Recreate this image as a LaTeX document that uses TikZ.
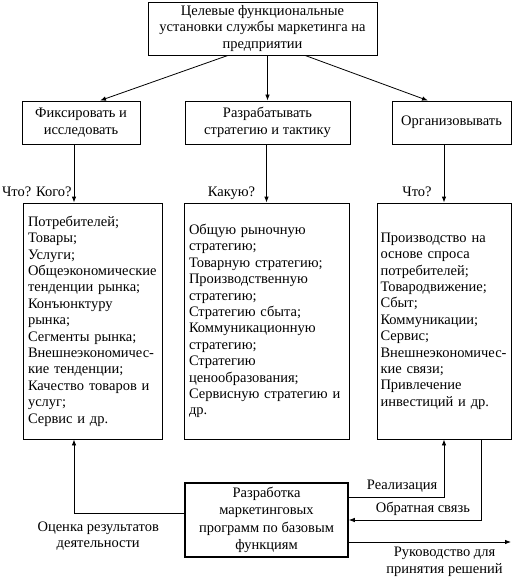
\documentclass[tikz,border=0pt]{standalone}
\usepackage{fontspec}
\setmainfont{Liberation Serif}
\usetikzlibrary{arrows.meta}

\begin{document}
\begin{tikzpicture}[x=1pt, y=-1pt, line width=0.8pt,
  every node/.style={font=\fontsize{14.5}{16.4}\selectfont, inner sep=0pt},
  box/.style={draw, align=center},
  list/.style={draw, minimum height=236pt, align=left, inner xsep=5pt},
  >={Latex[length=6pt,width=4.5pt]}]
  \useasboundingbox (0,0) rectangle (513,580);
  \node[box, minimum width=229pt, minimum height=53pt] (goal) at (262.5,28.5)
    {Целевые функциональные\\установки службы маркетинга на\\предприятии};
  \node[box, minimum width=118pt, minimum height=43pt] (fix) at (81,122.5)
    {Фиксировать и\\исследовать};
  \node[box, minimum width=165pt, minimum height=43pt] (dev) at (267.5,122.5)
    {Разрабатывать\\стратегию и тактику};
  \node[box, minimum width=119pt, minimum height=43pt] (org) at (451.5,122.5)
    {Организовывать};
  \node[list, text width=129pt] (obj) at (92.5,321)
    {Потребителей;\\Товары;\\Услуги;\\Общеэкономические\\тенденции рынка;\\Конъюнктуру\\рынка;\\Сегменты рынка;\\Внешнеэкономичес-\\кие тенденции;\\Качество товаров и\\услуг;\\Сервис и др.};
  \node[list, text width=155pt] (strat) at (266.5,321)
    {Общую рыночную\\стратегию;\\Товарную стратегию;\\Производственную\\стратегию;\\Стратегию сбыта;\\Коммуникационную\\стратегию;\\Стратегию\\ценообразования;\\Сервисную стратегию и\\др.};
  \node[list, inner xsep=3.5pt, text width=127pt] (func) at (444,321)
    {Производство на\\основе спроса\\потребителей;\\Товародвижение;\\Сбыт;\\Коммуникации;\\Сервис;\\Внешнеэкономичес-\\кие связи;\\Привлечение\\инвестиций и др.};
  \node[box, line width=1.6pt, minimum width=163pt, minimum height=74pt,
    font=\fontsize{14.5}{17.5}\selectfont] (prog) at (266.5,520)
    {Разработка\\маркетинговых\\программ по базовым\\функциям};
  \coordinate (out) at (511,542);

  \path[->]
  ([xshift=-34.5pt]goal.south) edge ([xshift=19pt]fix.north)
  (goal.south -| dev.north) edge (dev.north)
  ([xshift=42.5pt]goal.south) edge ([xshift=-23.5pt]org.north)
  ([xshift=-7pt]fix.south) edge node [pos=1, anchor=base east, xshift=-2pt, yshift=6pt] {Что? Кого?} ([xshift=-18.5pt]obj.north)
  ([xshift=-1pt]dev.south) edge node [pos=1, anchor=base east, xshift=-11pt, yshift=6pt] {Какую?} (strat.north)
  ([xshift=-7.5pt]org.south) edge node [pos=1, anchor=base east, xshift=-12pt, yshift=6pt] {Что?} (func.north)
  ;
  \draw[->] ([yshift=7pt]prog.west) -| ([xshift=-18.5pt]obj.south)
    node [pos=0.39, below=8pt, align=center] {Оценка результатов\\деятельности};
  \draw[->] ([yshift=23pt]prog.east) -| (func.south)
    node [pos=0.28, above=4pt] {Реализация};
  \draw[->] ([xshift=37pt]func.south) |- (prog.east)
    node [pos=0.72, above=4pt] {Обратная связь};
  \draw[->] (prog.east |- out) -- (out)
    node [pos=0.59, below=5pt, align=center] {Руководство для\\принятия решений};
\end{tikzpicture}
\end{document}
